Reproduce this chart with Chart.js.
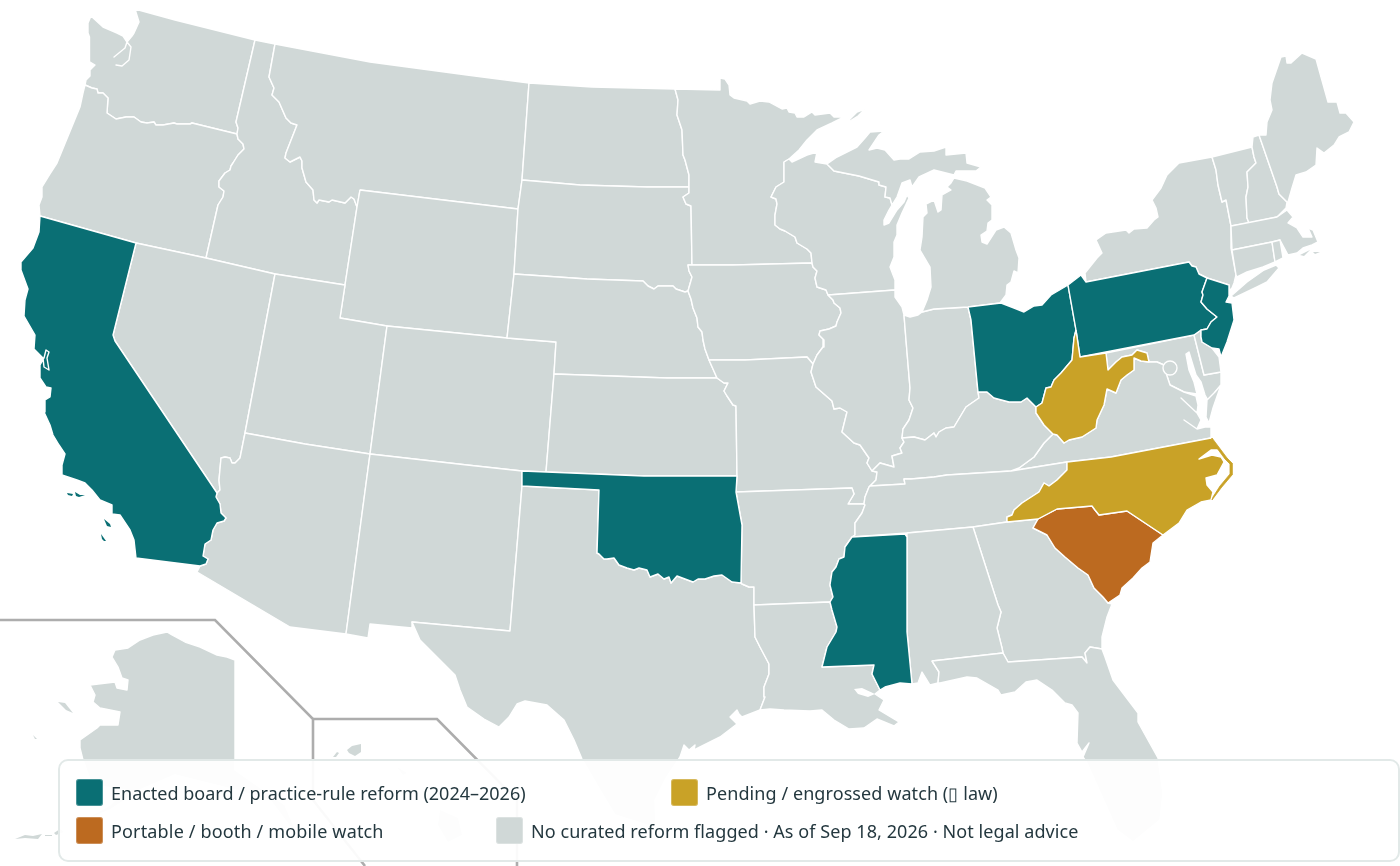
<!DOCTYPE html>
<html>
<head>
<meta charset="utf-8">
<title>Reform map</title>
<script src="https://cdn.jsdelivr.net/npm/chart.js@4"></script>
<style>
  html, body { margin: 0; padding: 0; background: #fff; }
  #wrap { position: relative; width: 1400px; height: 866px; overflow: hidden; font-family: "Noto Sans", sans-serif; }
  #legend { position: absolute; left: 58px; top: 759px; width: 1342px; height: 103px; box-sizing: border-box;
    border: 2px solid #e2e9e8; border-radius: 10px; background: rgba(255,255,255,0.94); }
  .item { position: absolute; display: flex; align-items: center; font-size: 18px; color: #24383f; white-space: nowrap; }
  .sw { width: 27px; height: 27px; border-radius: 3px; margin-right: 8px; box-shadow: inset 0 0 0 1px rgba(255,255,255,.25); }
</style>
</head>
<body>
<div id="wrap">
  <canvas id="map" width="1400" height="866"></canvas>
  <div id="legend"></div>
</div>
<script>
function rev(a) { return a.slice().reverse(); }

// map outlines, in map units (0-1400 across, 0-866 down)
const orId = [[237,134],[238,139],[243,144],[244,149],[238,155],[233,163],[231,166],[230,170],[225,173],[219,181],[219,187],[224,191],[223,197],[218,205],[206,258]];
const waId = [[255,40],[236,122],[238,128],[237,134]];
const waOr = [[85,85],[92,88],[97,89],[98,93],[103,93],[108,98],[107,113],[116,119],[126,117],[134,117],[141,122],[147,123],[154,122],[156,125],[163,125],[174,123],[177,124],[190,124],[192,123],[237,134]];
const idMt = [[275,44],[269,77],[274,88],[272,95],[279,102],[286,118],[291,123],[297,125],[286,153],[285,158],[290,162],[300,157],[302,161],[302,168],[306,182],[313,190],[314,200],[317,203],[319,200],[329,202],[332,200],[345,203],[351,197],[354,199],[357,207]];
const mtNorth = [[275,44],[370,62],[467,75],[529,83]];
const caNv = [[136,243],[113,335],[115,341],[217,493]];
const nvAz = [[245,433],[240,458],[235,463],[232,463],[230,458],[225,457],[221,458],[219,480],[220,490],[217,493]];
const caAz = [[217,493],[216,497],[220,504],[221,513],[226,518],[224,521],[217,523],[213,530],[211,540],[205,544],[203,556],[208,559],[206,564],[200,566]];
const ndMn = [[675,89],[678,100],[677,115],[682,130],[683,155],[685,160],[689,175],[689,187]];
const sdMn = [[689,187],[689,193],[683,197],[686,204],[691,206],[692,265]];
const sdIa = [[692,265],[688,265],[689,271],[692,277],[688,291]];
const sdNe = [[514,274],[587,279],[643,281],[648,286],[654,289],[658,286],[673,286],[676,289],[685,292],[688,291]];
const iaNe = [[688,291],[691,299],[693,308],[697,318],[698,327],[702,332],[703,340],[705,349],[709,360]];
const iaMn = [[692,265],[733,265],[812,263]];
const iaMo = [[709,360],[745,360],[807,357],[813,364]];
const mnWi = [[784,162],[784,182],[776,187],[771,197],[776,199],[777,204],[775,215],[775,225],[780,229],[785,231],[795,237],[797,243],[807,249],[811,253],[812,263]];
const wiIa = [[812,263],[813,267],[817,271],[815,278],[817,287],[826,290],[828,295]];
const iaIl = [[828,295],[833,300],[834,303],[840,308],[841,313],[837,322],[836,326],[829,329],[820,331],[819,335],[824,340],[823,347],[817,355],[813,364]];
const ksMo = [[717,378],[724,383],[728,383],[724,391],[727,396],[733,405],[736,406],[737,476]];
const moIl = [[813,364],[811,372],[816,387],[832,401],[834,409],[840,408],[847,412],[842,432],[854,443],[860,445],[869,458],[867,463],[872,471]];
const moKy = [[872,471],[877,472],[876,480],[870,486]];
const bootheel = [[870,486],[869,487],[865,497],[864,504]];
const arEast = [[864,504],[865,505],[862,513],[855,523],[855,535],[852,537]];
const msWest = [[852,537],[845,547],[844,557],[839,559],[836,567],[832,572],[830,585],[833,597],[830,602]];
const laMs = [[830,602],[832,610],[837,627],[836,632],[827,647],[822,667],[874,665],[872,674],[880,690]];
const txLa = [[760,710],[765,697],[764,687],[769,674],[769,664],[760,647],[755,637],[754,605]];
const txAr = [[754,605],[754,587],[749,587],[742,584],[741,583]];
const okTx = [[741,583],[732,582],[722,575],[714,576],[705,579],[698,579],[693,582],[685,579],[677,576],[671,583],[669,577],[664,579],[658,574],[650,577],[647,570],[639,568],[634,570],[627,568],[619,565],[614,558],[607,559],[604,559],[599,554],[597,553],[599,490],[522,486]];
const ilIn = [[904,315],[906,340],[910,388],[909,400],[913,408],[909,420],[903,429],[902,438]];
const ilKy = [[902,438],[904,442],[900,448],[902,453],[892,456],[894,467],[880,463],[875,468],[872,471]];
const inKy = [[902,438],[914,437],[925,440],[934,433],[936,437],[939,432],[946,428],[954,427],[966,407],[979,398],[978,392]];
const wiMi = [[827,164],[834,171],[859,176],[879,182],[879,185],[886,187],[885,197],[890,198],[892,205]];
const ohKy = [[978,392],[987,392],[994,398],[1009,402],[1021,402],[1027,398],[1036,407]];
const ohWv = [[1036,407],[1042,403],[1046,388],[1051,387],[1054,380],[1061,373],[1072,360],[1074,338],[1076,330]];
const paNj = [[1207,278],[1202,292],[1203,295],[1201,302],[1207,309],[1217,317],[1211,322],[1207,329],[1201,330]];
const nyPa = [[1086,282],[1189,262],[1192,266],[1196,267],[1199,274],[1207,278]];
const nyEast = [[1212,157],[1216,170],[1218,185],[1222,202],[1226,200],[1231,226],[1231,248],[1236,275],[1234,283],[1232,288]];
const vtNh = [[1252,147],[1254,157],[1256,163],[1247,172],[1248,187],[1246,197],[1247,218],[1249,223]];
const nhMe = [[1259,135],[1277,187],[1279,194],[1287,202]];
const wvVa = [[1036,413],[1044,425],[1053,434],[1057,435],[1064,443],[1069,440],[1082,437],[1096,428],[1097,420],[1104,405],[1107,389],[1116,393],[1121,380],[1127,375],[1134,370],[1134,358]];
const wvMd = [[1080,357],[1106,353],[1108,370],[1116,362],[1122,357],[1132,355],[1137,350],[1147,353],[1149,362],[1141,361],[1134,358]];
const kyVa = [[1053,434],[1044,443],[1034,457],[1019,468]];
const tnNorth = [[870,486],[905,484],[904,479],[911,479],[934,477],[947,475],[1011,471],[1067,462]];
const tnNc = [[1067,462],[1067,470],[1057,480],[1049,486],[1044,483],[1039,492],[1022,503],[1014,510],[1012,515],[1007,517],[1007,522]];
const gaSc = [[1038,519],[1033,528],[1047,535],[1055,548],[1065,557],[1078,568],[1088,575],[1094,588],[1103,597],[1108,603]];
const gaAl = [[973,527],[998,605],[1001,612],[997,628],[1002,648],[1003,653],[1008,662]];
const gaFl = [[1008,662],[1082,657],[1087,663],[1085,653],[1090,647],[1102,649]];

const WA = [[135,9],[175,20],[255,40],...waId.slice(1),...rev(waOr).slice(1),[86,80],[90,76],[90,70],[95,65],[90,62],[89,60],[90,37],[88,33],[88,23],[91,16],[103,27],[117,33],[123,36],[127,42],[125,48],[114,57],[125,48],[127,42],[131,47],[129,60],[122,66],[116,65],[122,66],[129,60],[131,47],[127,42],[132,36],[134,33],[127,23],[134,33],[139,22],[126,19],[139,22]];
const OR = [...waOr,...orId,[136,243],[40,216],[39,205],[42,197],[42,187],[50,174],[57,163],[80,107],[83,93]];
const CA = [[40,216],...caNv,...caAz,[136,558],[134,540],[130,530],[120,515],[112,514],[112,505],[100,500],[92,490],[85,483],[77,480],[62,475],[62,465],[65,454],[59,445],[53,435],[50,425],[44,412],[45,400],[50,397],[51,388],[46,387],[40,378],[40,365],[44,358],[46,350],[49,352],[47,358],[49,370],[44,367],[43,358],[34,349],[35,335],[24,316],[25,300],[28,289],[21,270],[21,262],[33,248],[39,232]];
const caIsle1 = [[67,493],[73,494],[72,496],[68,495]];
const caIsle2 = [[75,492],[80,495],[85,495],[79,497],[76,496]];
const caIsle3 = [[104,519],[110,524],[111,527],[107,526]];
const caIsle4 = [[101,534],[106,541],[104,541],[102,539]];
const ID = [[255,40],...idMt,[345,285],[275,274],[206,258],...rev(orId),...rev(waId).slice(1)];
const NV = [[136,243],[206,258],[275,274],...nvAz,...rev(caNv).slice(0,3)];
const MT = [...mtNorth,[522,180],[518,209],[360,190],...rev(idMt)];
const WY = [[360,190],[518,209],[514,274],[507,338],[387,326],[340,318],[345,285],[357,207]];
const UT = [[275,274],[345,285],[340,318],[387,326],[370,454],[305,444],[245,433]];
const CO = [[387,326],[507,338],[556,342],[554,374],[546,472],[522,471],[467,465],[370,454]];
const AZ = [[245,433],[305,444],[370,454],[346,634],[290,627],[197,572],...rev(caAz),...rev(nvAz)];
const NM = [[370,454],[467,465],[522,471],[522,486],[510,631],[412,622],[412,628],[370,624],[368,638],[346,634]];
const ND = [[529,83],[592,87],...ndMn,[647,187],[580,185],[522,180]];
const SD = [[522,180],[580,185],[647,187],...sdMn,...sdIa,...rev(sdNe),[518,209]];
const NE = [...sdNe,...iaNe,[717,378],[667,378],[554,374],[556,342],[507,338]];
const KS = [[554,374],[667,378],...ksMo,[644,476],[546,472]];
const OK = [[522,471],[644,476],[737,476],[736,492],[742,525],...okTx];
const TX = [[522,486],[510,631],[412,622],[420,640],[440,660],[455,675],[460,690],[467,707],[484,719],[499,727],[509,717],[517,704],[525,701],[547,705],[564,720],[574,740],[582,759],[600,790],[615,815],[650,826],[656,825],[655,800],[665,780],[680,757],[684,745],[689,750],[695,745],[694,750],[720,737],[737,724],[730,717],[737,710],[739,714],[742,717],...txLa,...txAr,...okTx];
const MN = [[675,89],[720,90],[720,78],[725,79],[729,85],[730,95],[734,98],[747,101],[750,104],[760,101],[769,102],[782,109],[787,108],[789,112],[795,113],[797,117],[804,117],[812,112],[815,115],[830,113],[834,117],[844,117],[832,123],[817,130],[807,140],[799,150],[789,159],...mnWi,[733,265],...rev(sdMn),...rev(ndMn)];
const IA = [...iaMn,...wiIa,...iaIl,...rev(iaMo),...rev(iaNe),...rev(sdIa)];
const MO = [[709,360],[717,378],...ksMo,[736,492],[852,488],[854,494],[848,504],[864,504],...rev(bootheel),...rev(moKy),...rev(moIl),...rev(iaMo)];
const AR = [[736,492],[852,488],[854,494],[848,504],...arEast,...msWest,[754,605],...txAr,[742,525]];
const LA = [...txLa,...laMs,[875,694],[884,700],[879,710],[899,722],[894,726],[877,719],[864,728],[849,729],[834,720],[822,710],[810,711],[784,710],[770,709]];
const lakePontchartrain = [[854,689],[862,688],[875,694],[868,697],[858,694]];
const MS = [[852,537],[905,534],[907,537],[907,632],[912,684],[900,683],[885,687],...rev(laMs),...rev(msWest)];
const WI = [[784,162],[789,159],[792,162],[807,155],[817,152],[815,162],...wiMi,[889,210],[884,220],[884,225],[889,223],[897,210],[904,202],[907,195],[909,198],[902,213],[897,225],[897,235],[894,242],[894,257],[890,267],[895,280],[895,290],[828,295],...rev(wiIa),...rev(mnWi)];
const IL = [[828,295],[895,290],[895,297],[902,307],...ilIn,...ilKy,...rev(moIl),...rev(iaIl)];
const IN = [[904,315],[910,317],[918,315],[922,312],[934,309],[968,307],[971,320],[978,392],...rev(inKy),...rev(ilIn)];
const MIupper = [[827,164],[837,157],[857,147],[865,138],[870,132],[884,131],[879,135],[869,150],[877,148],[885,150],[894,160],[900,159],[909,159],[920,152],[934,151],[946,147],[946,155],[966,153],[967,163],[981,167],[976,171],[956,171],[954,175],[934,170],[919,177],[912,187],[910,180],[902,183],[897,197],...rev(wiMi)];
const MIlower = [[922,312],[927,300],[931,287],[930,267],[920,250],[922,237],[923,217],[927,213],[926,204],[934,200],[938,212],[941,210],[942,195],[951,190],[947,187],[951,183],[954,178],[967,181],[985,188],[991,197],[987,200],[992,205],[992,220],[988,223],[987,231],[981,235],[982,242],[987,244],[996,230],[1004,227],[1011,233],[1016,250],[1019,258],[1018,273],[1014,271],[1011,282],[1007,285],[1006,295],[1000,303],[968,307],[934,309]];
const isleRoyale = [[849,120],[857,112],[865,109],[858,116],[850,121]];
const OH = [[968,307],[1001,303],[1014,308],[1024,312],[1034,306],[1042,305],[1051,295],[1068,285],[1076,330],...rev(ohWv).slice(1),...rev(ohKy),[971,320]];
const PA = [[1068,285],[1081,275],[1086,282],...nyPa.slice(1),...paNj,[1194,335],[1080,357],[1076,330]];
const NJ = [[1207,278],[1229,285],[1229,296],[1226,302],[1232,303],[1234,320],[1227,342],[1221,357],[1219,349],[1212,348],[1202,342],[1201,337],...rev(paNj)];
const NY = [[1085,273],[1097,258],[1102,253],[1096,240],[1106,233],[1126,230],[1129,233],[1134,229],[1147,228],[1154,220],[1158,217],[1156,208],[1152,200],[1161,188],[1167,175],[1179,163],...nyEast,[1229,291],[1229,285],...rev(nyPa)];
const longIsland = [[1231,296],[1247,282],[1264,270],[1276,265],[1279,268],[1267,282],[1257,287],[1234,298]];
const VT = [[1212,157],[1252,147],...vtNh,...rev(nyEast.slice(0,6))];
const NH = [[1253,137],[1259,135],...nhMe.slice(1),[1286,208],[1277,217],[1249,223],...rev(vtNh)];
const ME = [[1259,135],[1266,135],[1267,122],[1272,110],[1270,100],[1272,83],[1281,57],[1286,56],[1287,63],[1291,63],[1302,53],[1316,59],[1328,102],[1337,102],[1340,113],[1346,113],[1354,122],[1349,132],[1339,137],[1334,145],[1324,153],[1317,148],[1316,165],[1306,172],[1296,175],[1292,188],[1288,202],...rev(nhMe).slice(0,-1)];
const MA = [[1231,226],[1277,217],[1287,210],[1293,217],[1288,223],[1297,228],[1303,237],[1312,237],[1308,228],[1313,230],[1318,242],[1312,245],[1303,248],[1297,253],[1288,255],[1280,240],[1272,242],[1232,250]];
const CT = [[1232,250],[1272,242],[1275,262],[1263,267],[1247,272],[1237,277],[1236,275]];
const RI = [[1272,242],[1280,240],[1283,258],[1275,262]];
const nantucket = [[1313,252],[1320,252],[1315,254]];
const vineyard = [[1300,255],[1310,250],[1304,256]];
const WV = [[1076,330],...wvMd,...rev(wvVa),...ohWv.slice(0,-1)];
const MD = [[1106,353],[1194,335],[1204,375],[1221,372],[1221,385],[1215,392],[1210,404],[1205,395],[1201,382],[1196,375],[1192,362],[1189,352],[1186,354],[1189,370],[1194,382],[1197,394],[1184,392],[1170,385],[1167,376],[1164,365],[1157,362],[1149,362],[1147,353],[1137,350],[1132,355],[1122,357],[1116,362],[1108,370]];
const DE = [[1194,335],[1201,330],[1201,337],[1202,342],[1212,348],[1219,357],[1221,372],[1204,375]];
const VA = [...kyVa,[1011,471],[1067,462],[1111,457],[1211,438],[1211,427],[1205,427],[1197,429],[1184,420],[1197,429],[1201,420],[1197,413],[1181,398],[1197,413],[1198,405],[1196,396],[1184,392],[1170,385],[1167,376],[1164,365],[1157,362],[1149,362],[1141,361],...rev(wvVa).slice(0,-2)];
const vaShore = [[1221,385],[1213,408],[1209,423],[1206,417],[1207,400],[1215,392]];
const KY = [[872,471],[875,468],...rev(ilKy).slice(2),...inKy,...ohKy,[1036,413],[1044,425],...kyVa,[1011,471],...rev(tnNorth).slice(1),[876,480],[877,472]];
const TN = [...tnNorth,...tnNc,[973,527],[907,533],[852,537],...rev(arEast),...rev(bootheel)];
const NC = [[1211,438],[1111,457],...tnNc,[1038,519],[1057,509],[1092,506],[1095,510],[1099,515],[1127,511],[1163,535],[1179,523],[1187,510],[1201,502],[1211,500],[1213,492],[1207,485],[1206,478],[1217,475],[1224,462],[1221,457],[1212,455],[1199,459],[1211,450],[1221,450]];
const outerBanks = [[1212,438],[1227,458],[1232,463],[1232,475],[1221,488],[1212,500],[1213,497],[1220,486],[1230,474],[1230,464],[1225,459],[1211,440]];
const SC = [...gaSc,[1120,595],[1122,588],[1133,578],[1142,568],[1150,562],[1153,543],[1163,535],[1127,511],[1099,515],[1095,510],[1092,506],[1057,509]];
const GA = [[973,527],[1007,522],...gaSc,[1112,604],[1107,617],[1102,637],...rev(gaFl),...rev(gaAl)];
const AL = [[907,533],[973,527],...gaAl.slice(1,6),[932,661],[939,672],[938,683],[930,685],[922,672],[918,683],[912,684],[907,632]];
const FL = [[932,661],[1003,653],...gaFl,[1105,657],[1113,680],[1138,713],[1138,722],[1158,758],[1163,793],[1160,820],[1133,842],[1117,830],[1087,763],[1083,757],[1089,743],[1082,752],[1077,743],[1078,713],[1072,705],[1065,703],[1052,690],[1037,680],[1026,682],[1015,692],[1001,695],[998,690],[977,678],[967,677],[940,683],[938,683],[939,672]];

const AK = [[235,660],[227,657],[217,655],[200,647],[185,642],[172,635],[167,632],[153,635],[140,640],[128,648],[115,650],[112,657],[118,667],[122,678],[128,680],[127,690],[117,688],[115,682],[90,685],[95,695],[93,702],[100,708],[120,712],[118,725],[100,725],[97,728],[80,740],[80,748],[83,760],[92,785],[125,790],[110,805],[75,825],[110,810],[140,790],[175,775],[235,790],[270,800],[300,840],[285,805],[235,770]];
const akIsle1 = [[58,702],[65,703],[73,713],[66,710]];
const akIsle2 = [[33,735],[37,739],[35,739]];
const akIsle3 = [[15,839],[25,835],[33,836],[42,834],[38,839],[25,838]];
const akIsle4 = [[45,835],[52,835],[52,836],[45,836]];
const akIsle5 = [[54,833],[60,829],[64,832],[56,835]];
const hiIsle1 = [[347,750],[352,746],[361,744],[361,752],[355,756],[349,753]];
const hiIsle2 = [[333,757],[337,752],[339,753],[336,757]];
const hiIsle3 = [[397,767],[407,773],[403,775]];
const hiIsle4 = [[440,810],[458,818],[462,835],[448,842],[438,825]];

const akInsetLine = [[0,620],[215,620],[313,719],[313,800],[365,866]];
const hiInsetLine = [[313,719],[437,719],[517,800],[517,866]];
const dcMarker = [[1170,368]];

const noFlag = [WA,OR,ID,NV,MT,WY,UT,CO,AZ,NM,ND,SD,NE,KS,TX,MN,IA,MO,AR,LA,WI,IL,IN,MIupper,MIlower,isleRoyale,NY,longIsland,VT,NH,ME,MA,CT,RI,MD,DE,VA,vaShore,KY,TN,GA,AL,FL,AK];
const noFlagIslands = [nantucket,vineyard,akIsle1,akIsle2,akIsle3,akIsle4,akIsle5,hiIsle1,hiIsle2,hiIsle3,hiIsle4];
const enacted = [CA,OK,MS,OH,PA,NJ];
const enactedIslands = [caIsle1,caIsle2,caIsle3,caIsle4];
const pending = [WV,NC];
const portable = [SC];

const legendLabels = ['Enacted board / practice-rule reform (2024–2026)','Pending / engrossed watch (▯ law)','Portable / booth / mobile watch','No curated reform flagged · As of Sep 18, 2026 · Not legal advice'];
const legendColors = ['#0a6f74','#c9a227','#bc6a20','#d0d8d7'];
const legendSpots = [[16,18],[611,18],[16,56],[436,56]];
const legendSpacing = [0,0.08,0.16,0.07];

function toPoints(list) { return list.map(p => ({ x: p[0], y: p[1] })); }

function shape(list, color, line, width) {
    const pts = toPoints(list);
    pts.push(pts[0]);
    return { data: pts, showLine: true, fill: 'shape', backgroundColor: color, borderColor: line, borderWidth: width, pointRadius: 0, tension: 0, borderJoinStyle: 'round' };
}

function buildDatasets() {
    const sets = [];
    noFlag.forEach(s => sets.push(shape(s, legendColors[3], '#fff', 1.4)));
    noFlagIslands.forEach(s => sets.push(shape(s, legendColors[3], legendColors[3], 0)));
    sets.push(shape(lakePontchartrain, '#fff', '#fff', 0));
    enacted.forEach(s => sets.push(shape(s, legendColors[0], '#fff', 1.4)));
    enactedIslands.forEach(s => sets.push(shape(s, legendColors[0], legendColors[0], 0)));
    portable.forEach(s => sets.push(shape(s, legendColors[2], '#fff', 1.4)));
    pending.forEach(s => sets.push(shape(s, legendColors[1], '#fff', 1.4)));
    sets.push(shape(outerBanks, legendColors[1], legendColors[1], 0.8));
    [akInsetLine, hiInsetLine].forEach(l => sets.push({ data: toPoints(l), showLine: true, fill: false, borderColor: '#adadad', borderWidth: 2.6, pointRadius: 0, tension: 0 }));
    sets.push({ data: toPoints(dcMarker), showLine: false, pointRadius: 7, pointBackgroundColor: legendColors[3], pointBorderColor: '#fff', pointBorderWidth: 1.4 });
    // later entries paint on top
    sets.forEach((d, i) => { d.order = sets.length - i; });
    return sets;
}

function initChart() {
    new Chart(document.getElementById('map').getContext('2d'), {
        type: 'scatter',
        data: { datasets: buildDatasets() },
        options: {
            responsive: false,
            animation: false,
            layout: { padding: 0, autoPadding: false },
            plugins: { legend: { display: false }, tooltip: { enabled: false } },
            scales: {
                x: { type: 'linear', min: 0, max: 1400, display: false },
                y: { type: 'linear', min: 0, max: 866, reverse: true, display: false }
            }
        }
    });
}

function buildLegend() {
    const box = document.getElementById('legend');
    legendLabels.forEach((label, i) => {
        const item = document.createElement('div');
        item.className = 'item';
        item.style.left = legendSpots[i][0] + 'px';
        item.style.top = legendSpots[i][1] + 'px';
        const sw = document.createElement('span');
        sw.className = 'sw';
        sw.style.background = legendColors[i];
        const text = document.createElement('span');
        text.textContent = label;
        text.style.letterSpacing = legendSpacing[i] + 'px';
        item.appendChild(sw);
        item.appendChild(text);
        box.appendChild(item);
    });
}

initChart();
buildLegend();
</script>
</body>
</html>
